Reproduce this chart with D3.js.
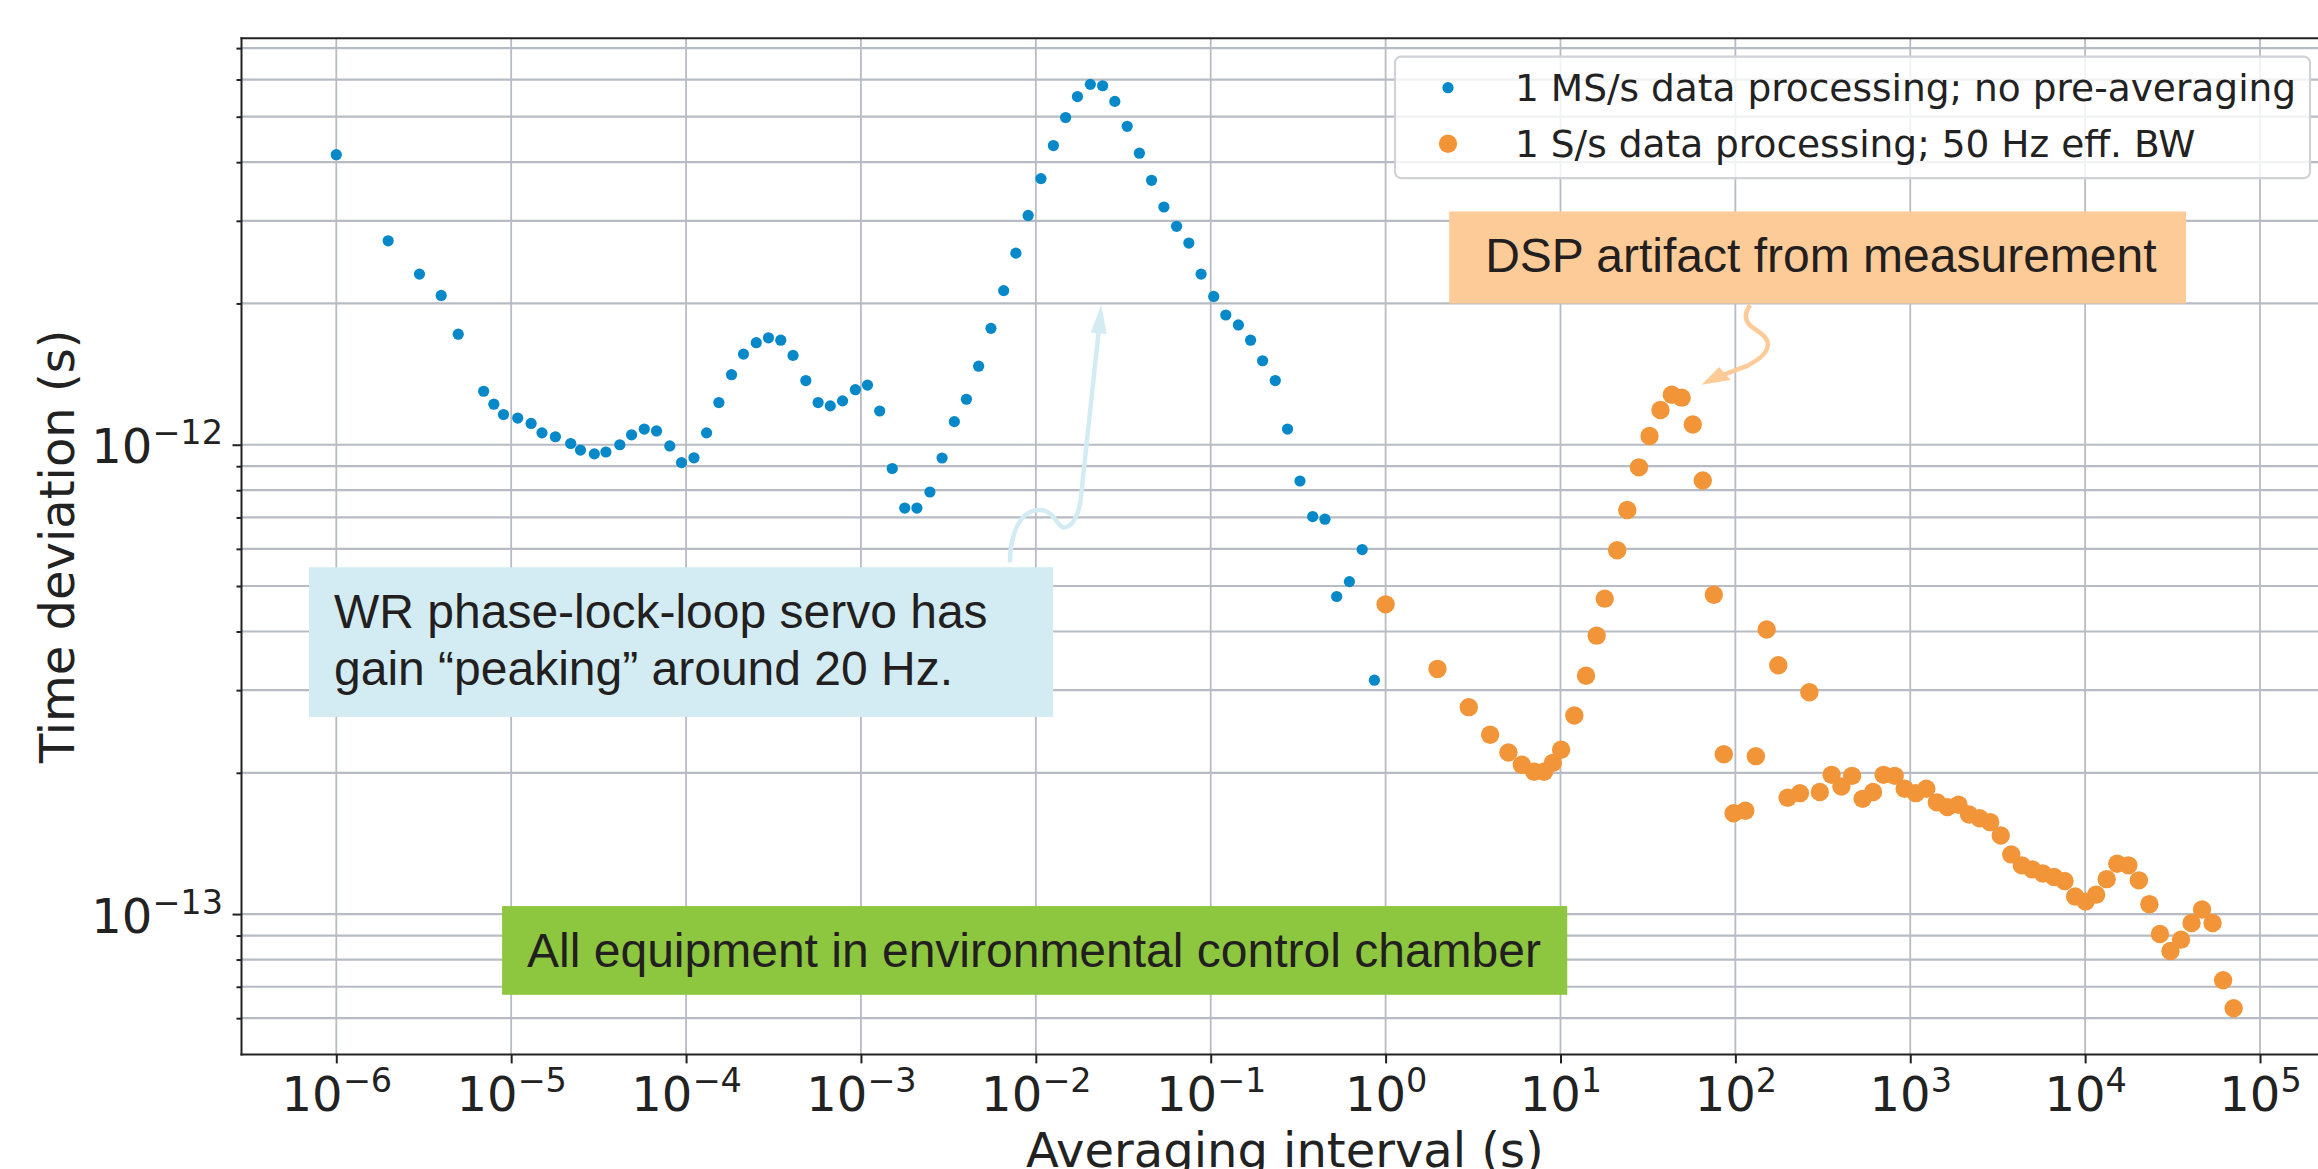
<!DOCTYPE html>
<html>
<head>
    <meta charset="UTF-8">
    <script src="https://cdn.jsdelivr.net/npm/d3@7"></script>
    <style>
        body { margin: 0; background: #fff; }
        svg { display: block; }
        .tickText, .axisTitle, .legendText { font-family: "DejaVu Sans", sans-serif; fill: #222; }
        .note { font-family: "Liberation Sans", Arial, sans-serif; font-size: 48px; fill: #231f20; }
    </style>
</head>
<body>
    <svg id="chart"></svg>

    <script>
// DATA
    var blueTau = [1e-6, 1.98e-6, 2.99e-6, 3.98e-6, 4.98e-6, 6.96e-6, 7.96e-6, 9.04e-6,
        1.09e-5, 1.3e-5, 1.5e-5, 1.79e-5, 2.19e-5, 2.49e-5, 2.99e-5, 3.48e-5, 4.18e-5, 4.88e-5,
        5.77e-5, 6.78e-5, 8.07e-5, 9.42e-5, 1.11e-4, 1.31e-4, 1.54e-4, 1.82e-4, 2.13e-4, 2.52e-4,
        2.96e-4, 3.48e-4, 4.09e-4, 4.84e-4, 5.69e-4, 6.68e-4, 7.85e-4, 9.29e-4, 1.09e-3, 1.28e-3,
        1.51e-3, 1.78e-3, 2.09e-3, 2.48e-3, 2.91e-3, 3.42e-3, 4.01e-3, 4.71e-3, 5.54e-3, 6.55e-3,
        7.69e-3, 9.04e-3, 1.07e-2, 1.26e-2, 1.48e-2, 1.73e-2, 2.05e-2, 2.41e-2, 2.83e-2, 3.33e-2,
        3.91e-2, 4.59e-2, 5.4e-2, 6.38e-2, 7.5e-2, 8.81e-2, 0.104, 0.122, 0.144, 0.169, 0.198,
        0.234, 0.275, 0.324, 0.383, 0.45, 0.525, 0.621, 0.735, 0.863];
    var blueDev = [4.15e-12, 2.72e-12, 2.31e-12, 2.08e-12, 1.72e-12, 1.30e-12, 1.22e-12, 1.16e-12,
        1.14e-12, 1.11e-12, 1.06e-12, 1.04e-12, 1.006e-12, 9.74e-13, 9.56e-13, 9.65e-13, 1.0e-12, 1.05e-12,
        1.08e-12, 1.07e-12, 9.94e-13, 9.16e-13, 9.38e-13, 1.06e-12, 1.23e-12, 1.41e-12, 1.56e-12, 1.65e-12,
        1.69e-12, 1.67e-12, 1.55e-12, 1.37e-12, 1.23e-12, 1.21e-12, 1.24e-12, 1.31e-12, 1.34e-12, 1.18e-12,
        8.9e-13, 7.33e-13, 7.33e-13, 7.93e-13, 9.37e-13, 1.12e-12, 1.25e-12, 1.47e-12, 1.77e-12, 2.13e-12,
        2.56e-12, 3.08e-12, 3.69e-12, 4.34e-12, 4.98e-12, 5.52e-12, 5.86e-12, 5.82e-12, 5.39e-12, 4.77e-12,
        4.18e-12, 3.66e-12, 3.21e-12, 2.92e-12, 2.69e-12, 2.31e-12, 2.07e-12, 1.89e-12, 1.80e-12, 1.67e-12, 1.51e-12,
        1.37e-12, 1.08e-12, 8.37e-13, 7.03e-13, 6.94e-13, 4.75e-13, 5.11e-13, 5.98e-13, 3.15e-13];

    var orangeTau = [1.0, 1.98, 2.99, 3.96, 5.04, 6.01, 7.07, 8.06, 9.05, 10.08, 12.0, 14.0, 16.1,
        17.9, 21.1, 24.1, 28.1, 32.3, 37.3, 43.3, 49.3, 57.1, 65.1, 75.3, 85.9, 97.7, 114, 131, 151,
        176, 199, 234, 265, 304, 355, 404, 465, 534, 613, 704, 815, 929, 1076, 1236, 1420, 1632, 1888,
        2169, 2492, 2864, 3291, 3781, 4344, 4991, 5734, 6638, 7627, 8763, 10062, 11560, 13280, 15260,
        17660, 20290, 23300, 26770, 30760, 35340, 40580, 46600, 53540, 61510, 70660];
    var orangeDev = [4.57e-13, 3.33e-13, 2.76e-13, 2.41e-13, 2.21e-13, 2.08e-13, 2.01e-13, 2.01e-13,
        2.10e-13, 2.24e-13, 2.65e-13, 3.22e-13, 3.92e-13, 4.70e-13, 5.96e-13, 7.26e-13, 8.95e-13, 1.044e-12,
        1.186e-12, 1.278e-12, 1.26e-12, 1.104e-12, 8.39e-13, 4.79e-13, 2.19e-13, 1.64e-13, 1.66e-13, 2.17e-13,
        4.04e-13, 3.39e-13, 1.77e-13, 1.81e-13, 2.97e-13, 1.82e-13, 1.98e-13, 1.87e-13, 1.97e-13, 1.76e-13,
        1.82e-13, 1.98e-13, 1.97e-13, 1.85e-13, 1.81e-13, 1.85e-13, 1.73e-13, 1.69e-13, 1.71e-13, 1.63e-13,
        1.60e-13, 1.57e-13, 1.47e-13, 1.34e-13, 1.27e-13, 1.245e-13, 1.22e-13, 1.20e-13, 1.176e-13, 1.09e-13,
        1.063e-13, 1.10e-13, 1.187e-13, 1.28e-13, 1.27e-13, 1.18e-13, 1.05e-13, 9.07e-14, 8.34e-14, 8.82e-14,
        9.57e-14, 1.023e-13, 9.57e-14, 7.23e-14, 6.30e-14];

    var seriesNames = ["1 MS/s data processing; no pre-averaging",
                       "1 S/s data processing; 50 Hz eff. BW"];

    var xTickExps = [-6, -5, -4, -3, -2, -1, 0, 1, 2, 3, 4, 5];
    var yMajorExps = [-13, -12];
    var yGridValues = [6e-14, 7e-14, 8e-14, 9e-14, 1e-13, 2e-13, 3e-13, 4e-13, 5e-13, 6e-13, 7e-13,
                       8e-13, 9e-13, 1e-12, 2e-12, 3e-12, 4e-12, 5e-12, 6e-12, 7e-12];

// LAYOUT
    var width = 2318,
        height = 1169;
    var plot = {left: 241.5, right: 2328.4, top: 38.3, bottom: 1054.4};

    var blue = "#0688c9",
        orange = "#f29539",
        gridColor = "#b7bcc4",
        ink = "#222";

    var svg = d3.select("#chart")
                .attr("width", width)
                .attr("height", height);

    var x = d3.scaleLog()
                .domain([Math.pow(10, -6.542), Math.pow(10, 5.391)])
                .range([plot.left, plot.right]);
    var y = d3.scaleLog()
                .domain([Math.pow(10, -13.299), Math.pow(10, -11.134)])
                .range([plot.bottom, plot.top]);

// GRID
    var grid = svg.append("g").attr("id", "grid");
    grid.selectAll("line.v")
        .data(xTickExps)
        .enter().append("line")
            .attr("class", "v")
            .attr("x1", d => x(Math.pow(10, d)))
            .attr("x2", d => x(Math.pow(10, d)))
            .attr("y1", plot.top)
            .attr("y2", plot.bottom)
            .style("stroke", gridColor)
            .style("stroke-width", 1.8);
    grid.selectAll("line.h")
        .data(yGridValues)
        .enter().append("line")
            .attr("class", "h")
            .attr("x1", plot.left)
            .attr("x2", plot.right)
            .attr("y1", d => y(d))
            .attr("y2", d => y(d))
            .style("stroke", gridColor)
            .style("stroke-width", 2.2);

// AXES
    function isMajor(v) {
        var e = Math.log10(v);
        return Math.abs(e - Math.round(e)) < 1e-6;
    }

    var xAxis = svg.append("g")
        .attr("transform", `translate(0,${plot.bottom})`)
        .call(d3.axisBottom(x)
                .tickValues(xTickExps.map(e => Math.pow(10, e)))
                .tickSizeInner(9)
                .tickSizeOuter(0)
                .tickFormat(""));

    var yAxis = svg.append("g")
        .attr("transform", `translate(${plot.left},0)`)
        .call(d3.axisLeft(y)
                .tickValues(yGridValues)
                .tickSizeOuter(0)
                .tickFormat(""));

    [xAxis, yAxis].forEach(a => {
        a.select(".domain").remove();
        a.selectAll(".tick line").style("stroke", ink).style("stroke-width", 2);
    });
    yAxis.selectAll(".tick line").attr("x2", d => isMajor(d) ? -9 : -5);

    // tick labels as 10^n with a raised exponent
    function powerLabel(sel, exp) {
        sel.append("tspan").text("10");
        sel.append("tspan")
            .attr("dy", -19)
            .style("font-size", "33.5px")
            .text(String(exp).replace("-", "\u2212"));
    }

    xAxis.selectAll(".tick").each(function(d) {
        var t = d3.select(this).append("text")
            .attr("class", "tickText")
            .attr("x", 0)
            .attr("y", 56.3)
            .attr("text-anchor", "middle")
            .style("font-size", "48px");
        powerLabel(t, Math.round(Math.log10(d)));
    });

    yMajorExps.forEach(e => {
        var t = svg.append("text")
            .attr("class", "tickText")
            .attr("x", plot.left - 18.5)
            .attr("y", y(Math.pow(10, e)) + 18.6)
            .attr("text-anchor", "end")
            .style("font-size", "48px");
        powerLabel(t, e);
    });

    // spines (right one falls outside the picture, as in the original)
    var spines = [[plot.left, plot.top, plot.left, plot.bottom],
                  [plot.left, plot.bottom, plot.right, plot.bottom],
                  [plot.left, plot.top, plot.right, plot.top],
                  [plot.right, plot.top, plot.right, plot.bottom]];
    svg.append("g").selectAll("line")
        .data(spines)
        .enter().append("line")
            .attr("x1", d => d[0]).attr("y1", d => d[1])
            .attr("x2", d => d[2]).attr("y2", d => d[3])
            .style("stroke", ink)
            .style("stroke-width", 2)
            .style("stroke-linecap", "square");

    svg.append("text")
        .attr("class", "axisTitle")
        .attr("text-anchor", "middle")
        .attr("transform", `translate(74,${(plot.top + plot.bottom) / 2}) rotate(-90)`)
        .style("font-size", "48px")
        .text("Time deviation (s)");

    svg.append("text")
        .attr("class", "axisTitle")
        .attr("text-anchor", "middle")
        .attr("x", (plot.left + plot.right) / 2)
        .attr("y", 1167)
        .style("font-size", "48px")
        .text("Averaging interval (s)");

// POINTS
    var blueData = blueTau.map((t, i) => ({tau: t, dev: blueDev[i]}));
    var orangeData = orangeTau.map((t, i) => ({tau: t, dev: orangeDev[i]}));

    svg.append("g").attr("id", "blue")
        .selectAll("circle")
        .data(blueData)
        .enter().append("circle")
            .attr("cx", d => x(d.tau))
            .attr("cy", d => y(d.dev))
            .attr("r", 5.6)
            .style("fill", blue);

    svg.append("g").attr("id", "orange")
        .selectAll("circle")
        .data(orangeData)
        .enter().append("circle")
            .attr("cx", d => x(d.tau))
            .attr("cy", d => y(d.dev))
            .attr("r", 9.2)
            .style("fill", orange);

// ANNOTATIONS (boxes anchored in data space)
    var notes = [
        {lines: ["WR phase-lock-loop servo has", "gain \u201Cpeaking\u201D around 20 Hz."],
         x0: Math.pow(10, -6.156), x1: Math.pow(10, -1.901),
         y0: Math.pow(10, -12.261), y1: Math.pow(10, -12.580),
         fill: "#d3ecf3", pad: 25},
        {lines: ["All equipment in environmental control chamber"],
         x0: Math.pow(10, -5.052), x1: Math.pow(10, 1.0386),
         y0: Math.pow(10, -12.983), y1: Math.pow(10, -13.172),
         fill: "#8dc63f", pad: 25},
        {lines: ["DSP artifact from measurement"],
         x0: Math.pow(10, 0.3637), x1: Math.pow(10, 4.577),
         y0: Math.pow(10, -11.503), y1: Math.pow(10, -11.699),
         fill: "#fdcb97", pad: 36}
    ];

    // arrows: tip in data space, curve drawn as pixel offsets from the tip
    var arrows = [
        {tau: 0.02365, dev: 1.985e-12, color: "#d3ecf3",
         path: "M-91.3,257.6 C-91,230 -82,205 -61.7,205.1 C-47,205 -44,222 -37.7,222.4 C-30,223 -22,212 -20,190 L-18.3,173.4 L-2.5,26",
         head: [[0, 0], [5.5, 29], [-10.5, 27.6]]},
        {tau: 64.1, dev: 1.343e-12, color: "#fdcb97",
         path: "M48.5,-79.6 C44,-73 41,-65 50,-58 C60,-51 68,-46 66,-38 C64,-29 55,-24 46,-19 L21,-9.5",
         head: [[0, 0], [17.5, -17.6], [29.1, -4.6]]}
    ];

    var noteG = svg.append("g").attr("id", "notes");

    arrows.forEach(a => {
        var g = noteG.append("g")
            .attr("transform", `translate(${x(a.tau)},${y(a.dev)})`);
        g.append("path")
            .attr("d", a.path)
            .style("fill", "none")
            .style("stroke", a.color)
            .style("stroke-width", 4.5);
        g.append("polygon")
            .attr("points", a.head.map(p => p.join(",")).join(" "))
            .style("fill", a.color);
    });

    notes.forEach(n => {
        var bx = x(n.x0), by = y(n.y0);
        noteG.append("rect")
            .attr("x", bx)
            .attr("y", by)
            .attr("width", x(n.x1) - bx)
            .attr("height", y(n.y1) - by)
            .style("fill", n.fill);
        n.lines.forEach((line, i) => {
            noteG.append("text")
                .attr("class", "note")
                .attr("x", bx + n.pad)
                .attr("y", by + 61 + i * 56.7)
                .text(line);
        });
    });

// LEGEND
    var legW = 915, legH = 121.4;
    var legend = svg.append("g")
        .attr("transform", `translate(${plot.right - 18.4 - legW},${plot.top + 18.4})`);
    legend.append("rect")
        .attr("width", legW)
        .attr("height", legH)
        .attr("rx", 6)
        .style("fill", "#fff")
        .style("fill-opacity", 0.8)
        .style("stroke", "#cfd2d7")
        .style("stroke-width", 2.2);

    var legItems = [{name: seriesNames[0], color: blue, r: 5.6},
                    {name: seriesNames[1], color: orange, r: 9.2}];
    legItems.forEach((d, i) => {
        legend.append("circle")
            .attr("cx", 53)
            .attr("cy", 31 + i * 56)
            .attr("r", d.r)
            .style("fill", d.color);
        legend.append("text")
            .attr("class", "legendText")
            .attr("x", 120)
            .attr("y", 44.5 + i * 56)
            .style("font-size", "37.5px")
            .text(d.name);
    });
    </script>
</body>
</html>
